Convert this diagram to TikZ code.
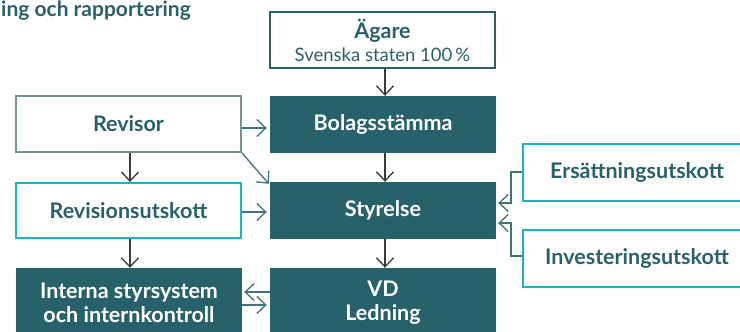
\documentclass[tikz,border=0pt]{standalone}
\usepackage{fontspec}
\setmainfont{Lato}
\usetikzlibrary{arrows.meta}
\definecolor{tealdark}{HTML}{27626A}
\definecolor{tealtext}{HTML}{2A6169}
\definecolor{grayteal}{HTML}{6F9597}
\definecolor{cyanb}{HTML}{1DB4C1}
\definecolor{arrgray}{HTML}{3A3A3A}
\definecolor{arrteal}{HTML}{3F7579}
\tikzset{
  base/.style={rectangle, inner sep=0pt, align=center, font=\bfseries\fontsize{21.5}{24}\selectfont},
  filled/.style={base, fill=tealdark, text=white},
  outlined/.style={base, draw=tealtext, line width=2pt, fill=white, text=tealtext},
  grayout/.style={base, draw=grayteal, line width=2pt, fill=white, text=tealtext},
  cyanout/.style={base, draw=cyanb, line width=2pt, fill=white, text=tealtext},
  tip/.style={-{Straight Barb[length=9pt,width=17pt,line width=1.3pt]}, line width=1.3pt},
  garr/.style={tip, draw=arrgray},
  tarr/.style={tip, draw=arrteal},
}
\begin{document}
\begin{tikzpicture}[x=1pt,y=-1pt]
\useasboundingbox (0,0) rectangle (740,332);
\clip (0,0) rectangle (740,332);
\fill[white] (0,0) rectangle (740,332);
\node[anchor=base west, text=tealtext, font=\bfseries\fontsize{21}{24}\selectfont, inner sep=0pt] (title) at (1,16.5) {ing och rapportering};

\node[outlined, minimum width=225pt, minimum height=56pt] (agare) at (382.5,40) {Ägare\\[-1pt]{\mdseries\fontsize{18.5}{22}\selectfont Svenska staten 100\,\%}};
\node[filled, minimum width=226pt, minimum height=57pt] (bolag) at (383,124.5) {Bolagsstämma};
\node[grayout, minimum width=225pt, minimum height=56pt] (revisor) at (128.5,124) {Revisor};
\node[cyanout, minimum width=225pt, minimum height=55pt] (revu) at (128.5,210.5) {Revisionsutskott};
\node[filled, minimum width=226pt, minimum height=57pt] (styr) at (383,210.5) {Styrelse};
\node[filled, minimum width=226pt, minimum height=70pt] (interna) at (129,303) {Interna styrsystem\\och internkontroll};
\node[filled, minimum width=226pt, minimum height=70pt] (vd) at (383,303) {VD\\Ledning};
\node[cyanout, minimum width=228pt, minimum height=57pt] (ers) at (637,172.5) {Ersättningsutskott};
\node[cyanout, minimum width=228pt, minimum height=57pt] (inv) at (637,258) {Investeringsutskott};

\draw[garr] (agare.south -| 385,0) -- (bolag.north -| 385,0);
\draw[garr] (bolag.south -| 385,0) -- (styr.north -| 385,0);
\draw[garr] (styr.south -| 385,0) -- (vd.north -| 385,0);
\draw[garr] (revisor.south -| 130,0) -- (revu.north -| 130,0);
\draw[garr] (revu.south -| 130,0) -- (interna.north -| 130,0);

\draw[tarr] (revisor.east |- 0,128) -- ([xshift=-3pt]bolag.west |- 0,128);
\draw[tarr] (revisor.south east) -- ([shift={(-1pt,-2pt)}]styr.north west);
\draw[tarr] (revu.east |- 0,212) -- ([xshift=-3pt]styr.west |- 0,212);
\draw[tarr] (vd.west |- 0,292) -- ([xshift=2pt]interna.east |- 0,292);
\draw[tarr] (interna.east |- 0,305) -- ([xshift=-3pt]vd.west |- 0,305);

\coordinate (ersb) at (511,172);
\coordinate (invb) at (511,256);
\draw[tarr] (ers.west |- ersb) -- (ersb) -- (511,203) -- ([xshift=2pt]styr.east |- 0,203);
\draw[tarr] (inv.west |- invb) -- (invb) -- (511,223) -- ([xshift=2pt]styr.east |- 0,223);
\end{tikzpicture}
\end{document}
